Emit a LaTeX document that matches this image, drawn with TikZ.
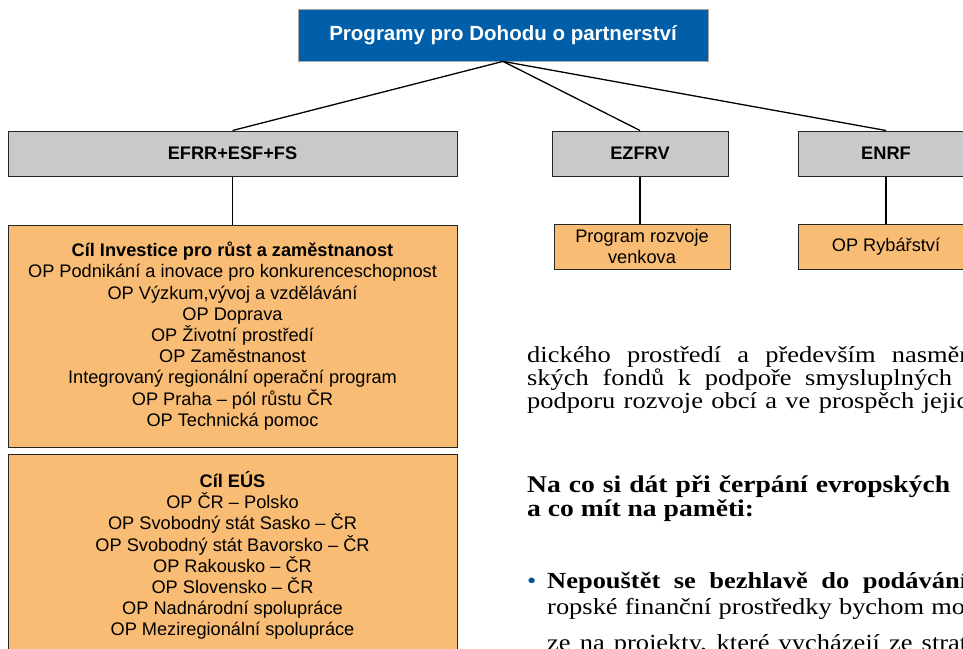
\documentclass[tikz,border=0pt]{standalone}
\usepackage{fontspec}
\setmainfont{Liberation Sans}
\newfontfamily\pageserif[FakeStretch=1.15]{Liberation Serif}
\usepackage{tikz}
\usetikzlibrary{positioning}

\definecolor{dpblue}{RGB}{0,95,168}
\definecolor{fundgray}{RGB}{200,201,203}
\definecolor{progorange}{RGB}{248,188,116}
\definecolor{dotblue}{RGB}{0,84,150}

\begin{document}
\begin{tikzpicture}[x=1pt, y=-1pt,
    topbox/.style={rectangle, fill=dpblue, draw=black!35, line width=0.8pt, text=white, minimum width=410pt, minimum height=52pt, inner sep=0pt, font=\fontsize{20.5}{24}\selectfont\bfseries},
    fundbox/.style={rectangle, fill=fundgray, draw=black!85, line width=1pt, minimum height=45pt, inner sep=0pt, font=\fontsize{18.2}{21.2}\selectfont\bfseries},
    progbox/.style={rectangle, fill=progorange, draw=black!85, line width=1pt, inner sep=0pt, align=center, font=\fontsize{18.2}{21.2}\selectfont},
    link/.style={line width=1.3pt, black},
    pageline/.style={anchor=base west, inner sep=0pt, font=\pageserif\fontsize{23}{23}\selectfont},
    pagehead/.style={anchor=base west, inner sep=0pt, font=\pageserif\fontsize{24}{24}\selectfont\bfseries}]
    \useasboundingbox (0,0) rectangle (963,648);
    \clip (0,0) rectangle (963,648);
    \fill[white] (0,0) rectangle (963,648);

    % funds and programmes
    \node [topbox] (dohoda) at (503,35) {Programy pro Dohodu o partnerství};
    \node [fundbox, minimum width=449pt] (efrr) at (232.5,153.5) {EFRR+ESF+FS};
    \node [fundbox, minimum width=176pt, right=94pt of efrr] (ezfrv) {EZFRV};
    \node [fundbox, minimum width=176pt, right=69pt of ezfrv] (enrf) {ENRF};

    \node [progbox, minimum width=449pt, minimum height=222pt, below=48pt of efrr] (investice) {\textbf{Cíl Investice pro růst a zaměstnanost}\\
        OP Podnikání a inovace pro konkurenceschopnost\\
        OP Výzkum,vývoj a vzdělávání\\
        OP Doprava\\
        OP Životní prostředí\\
        OP Zaměstnanost\\
        Integrovaný regionální operační program\\
        OP Praha – pól růstu ČR\\
        OP Technická pomoc};
    \node [progbox, minimum width=449pt, minimum height=203pt, below=6pt of investice] (eus) {\textbf{Cíl EÚS}\\
        OP ČR – Polsko\\
        OP Svobodný stát Sasko – ČR\\
        OP Svobodný stát Bavorsko – ČR\\
        OP Rakousko – ČR\\
        OP Slovensko – ČR\\
        OP Nadnárodní spolupráce\\
        OP Meziregionální spolupráce};
    \node [progbox, minimum width=176pt, minimum height=45pt, below=47pt of ezfrv, xshift=2pt] (venkov) {Program rozvoje\\venkova};
    \node [progbox, minimum width=176pt, minimum height=45pt, below=47pt of enrf] (rybar) {OP Rybářství};

    \draw [link] (dohoda.south) -- (efrr.north);
    \draw [link] (dohoda.south) -- (ezfrv.north);
    \draw [link] (dohoda.south) -- (enrf.north);
    \draw [link] (efrr.south) -- (investice.north);
    \draw [link] (ezfrv.south) -- (ezfrv.south |- venkov.north);
    \draw [link] (enrf.south) -- (rybar.north);

    % page text beside the chart
    \node [pageline] (radek1) at (527,362) {\makebox[441pt][s]{dického prostředí a především nasměr}};
    \node [pageline] (radek2) at (527,385) {\makebox[425pt][s]{ských fondů k podpoře smysluplných}};
    \node [pageline] (radek3) at (527,408) {\makebox[441pt][s]{podporu rozvoje obcí a ve prospěch jejic}};
    \node [pagehead] (otazka1) at (527,492) {\makebox[423pt][s]{Na co si dát při čerpání evropských}};
    \node [pagehead] (otazka2) at (527,516) {a co mít na paměti:};
    \node [pageline, text=dotblue] (tecka) at (527,588) {•};
    \node [pageline] (bod1) at (547,588) {\makebox[420pt][s]{\bfseries Nepouštět se bezhlavě do podávání}};
    \node [pageline] (bod2) at (547,614) {\makebox[418pt][s]{ropské finanční prostředky bychom mo}};
    \node [pageline] (bod3) at (547,650) {\makebox[420pt][s]{ze na projekty, které vycházejí ze strat}};
\end{tikzpicture}
\end{document}
